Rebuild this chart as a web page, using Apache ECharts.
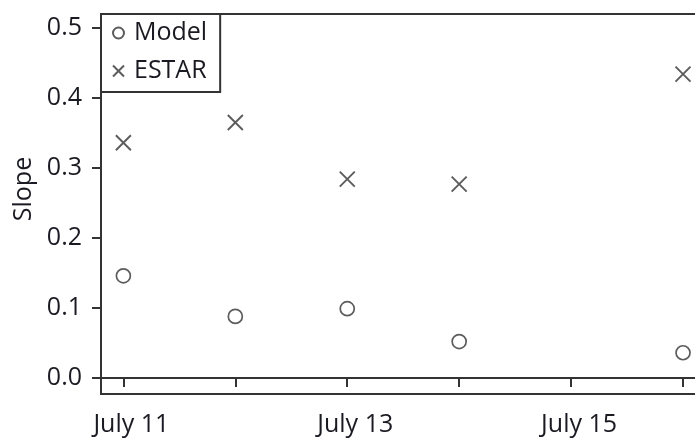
<!DOCTYPE html>
<html>
<head>
<meta charset="utf-8">
<script src="https://cdn.jsdelivr.net/npm/echarts@6/dist/echarts.min.js"></script>
<style>
  html, body { margin: 0; padding: 0; background: #fff; }
  #chart { width: 695px; height: 444px; }
</style>
</head>
<body>
<div id="chart"></div>
<script>
// Estimated slopes per day in July
const days = [11, 12, 13, 14, 16];
const modelSlope = [0.146, 0.088, 0.099, 0.052, 0.036];
const estarSlope = [0.336, 0.365, 0.284, 0.277, 0.434];

const xTickDays = [11, 12, 13, 14, 15, 16];
const xLabelDays = [11, 13, 15];
const yTicks = [0, 0.1, 0.2, 0.3, 0.4, 0.5];

const ink = '#333333';
const textColor = '#1a1a22';
const fontFamily = 'Open Sans';
const fontSize = 25;

const crossPath = 'path://M0,0L10,10M10,0L0,10';

const chart = echarts.init(document.getElementById('chart'), null, { renderer: 'canvas' });

chart.setOption({
  animation: false,
  backgroundColor: '#fff',
  textStyle: { fontFamily: fontFamily, fontSize: fontSize },
  grid: {
    left: 101, top: 14, bottom: 50, right: -16,
    outerBoundsMode: 'none',
    containLabel: false,
    show: true, borderColor: ink, borderWidth: 2, backgroundColor: 'transparent'
  },
  legend: {
    orient: 'vertical',
    left: 101, top: 14,
    padding: [4, 13, 6, 11],
    itemWidth: 11, itemHeight: 11, itemGap: 8,
    borderColor: ink, borderWidth: 2,
    backgroundColor: '#fff',
    textStyle: {
      fontFamily: fontFamily, fontSize: fontSize, color: textColor,
      lineHeight: 30, padding: [0, 0, 0, 5]
    },
    data: ['Model', 'ESTAR']
  },
  xAxis: {
    type: 'value',
    min: 10.8, max: 16.25,
    splitLine: { show: false },
    axisLine: { show: true, lineStyle: { color: ink, width: 2 } },
    axisTick: { show: true, length: 9, lineStyle: { color: ink, width: 2 }, customValues: xTickDays },
    axisLabel: {
      customValues: xLabelDays,
      formatter: v => 'July ' + v,
      fontFamily: fontFamily, fontSize: fontSize, color: textColor, margin: 18,
      padding: [0, 0, 0, 16]
    }
  },
  yAxis: {
    type: 'value',
    min: -0.0229, max: 0.52,
    name: 'Slope',
    nameLocation: 'middle',
    nameGap: 65,
    nameTextStyle: { fontFamily: fontFamily, fontSize: fontSize, color: textColor, padding: [0, 0, 0, 30] },
    splitLine: { show: false },
    axisLine: { show: true, lineStyle: { color: ink, width: 2 } },
    axisTick: { show: true, length: 9, lineStyle: { color: ink, width: 2 }, customValues: yTicks },
    axisLabel: {
      customValues: yTicks,
      formatter: v => v.toFixed(1),
      fontFamily: fontFamily, fontSize: fontSize, color: textColor, margin: 19
    }
  },
  series: [
    {
      name: 'Model',
      type: 'scatter',
      symbol: 'circle',
      symbolSize: 14,
      itemStyle: { color: '#fff', borderColor: ink, borderWidth: 1.7 },
      data: days.map((d, i) => [d, modelSlope[i]])
    },
    {
      name: 'ESTAR',
      type: 'scatter',
      symbol: crossPath,
      symbolSize: 15,
      itemStyle: { color: 'transparent', borderColor: ink, borderWidth: 1.9 },
      data: days.map((d, i) => [d, estarSlope[i]])
    }
  ]
});
</script>
</body>
</html>
